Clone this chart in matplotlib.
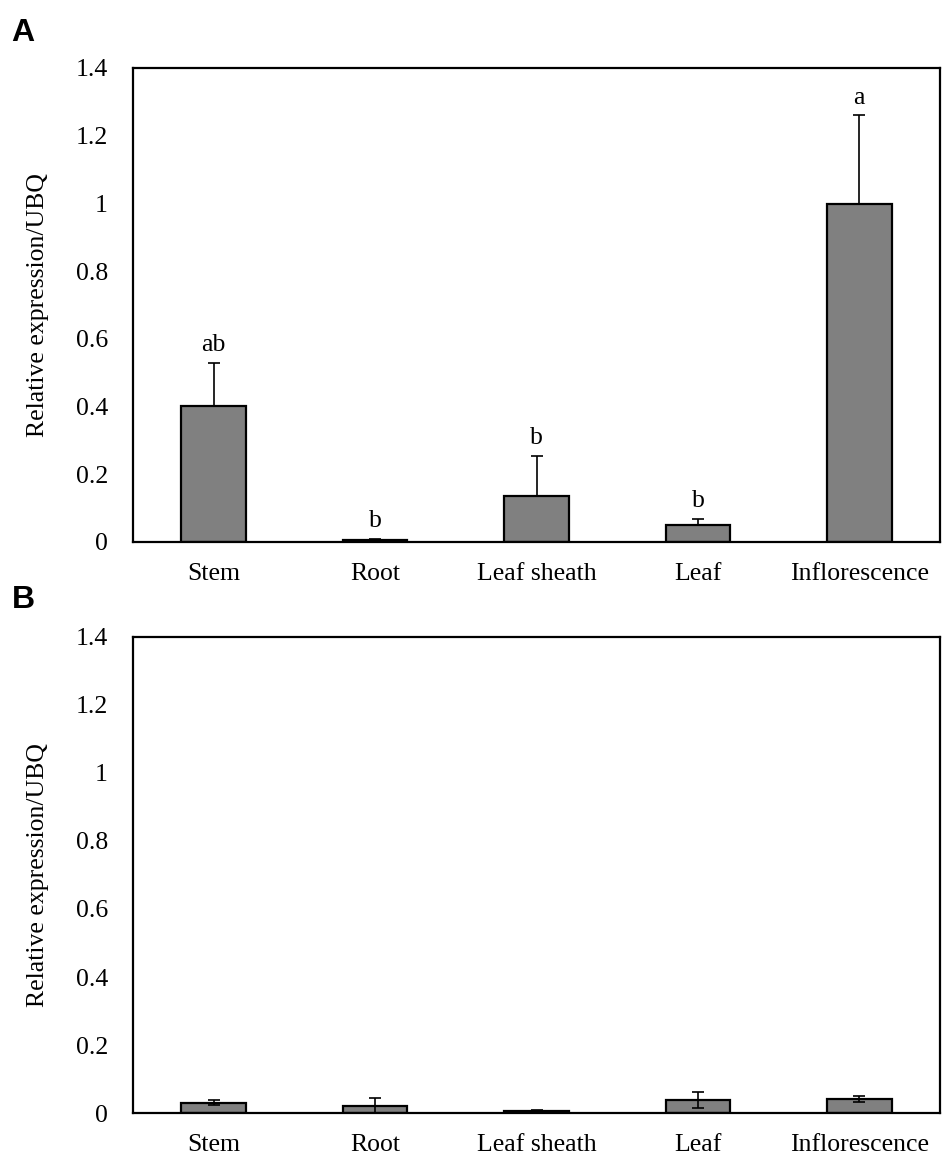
import numpy as np
from matplotlib import pyplot as plt
from matplotlib.ticker import FuncFormatter

tissues = ['Stem', 'Root', 'Leaf sheath', 'Leaf', 'Inflorescence']

# panel A
expr_a = [0.402, 0.005, 0.136, 0.050, 0.998]
err_a = [0.127, 0.003, 0.118, 0.017, 0.262]
letters_a = ['ab', 'b', 'b', 'b', 'a']

# panel B
expr_b = [0.030, 0.021, 0.006, 0.038, 0.041]
err_b = [0.007, 0.022, 0.002, 0.023, 0.008]

yticks = [0, 0.2, 0.4, 0.6, 0.8, 1.0, 1.2, 1.4]

plt.rcParams['font.family'] = ['Liberation Serif', 'DejaVu Serif']
FS = 18.5

fig = plt.figure(figsize=(9.5, 11.7), dpi=100)
ax_a = fig.add_axes([0.14, 0.5368, 0.8495, 0.4051])
ax_b = fig.add_axes([0.14, 0.0487, 0.8495, 0.4069])


def draw_panel(ax, vals, errs, lower_err):
	x = np.arange(len(tissues))
	yerr = [errs if lower_err else [0] * len(errs), errs]
	ax.bar(x, vals, width=0.4, color='#808080', edgecolor='black', linewidth=1.6, zorder=2)
	ax.errorbar(x, vals, yerr=yerr, fmt='none', ecolor='black', elinewidth=1.2,
		capsize=4, capthick=1.2, zorder=3)
	ax.set_xlim(-0.5, len(tissues) - 0.5)
	ax.set_ylim(0, 1.4)
	ax.set_yticks(yticks)
	ax.yaxis.set_major_formatter(FuncFormatter(lambda v, p: '{:g}'.format(round(v, 1))))
	ax.set_xticks(x)
	ax.set_xticklabels(tissues)
	ax.tick_params(axis='both', length=0, labelsize=FS)
	ax.tick_params(axis='y', pad=18)
	ax.tick_params(axis='x', pad=15)
	for s in ax.spines.values():
		s.set_linewidth(1.6)
	ax.set_ylabel('Relative expression/UBQ', fontsize=FS, labelpad=19)


draw_panel(ax_a, expr_a, err_a, False)
draw_panel(ax_b, expr_b, err_b, True)

for i, lab in enumerate(letters_a):
	ax_a.text(i, expr_a[i] + err_a[i] + 0.02, lab, ha='center', va='bottom', fontsize=FS)

fig.text(0.012, 0.972, 'A', fontsize=23, fontweight='bold', family='Liberation Sans', va='center')
fig.text(0.012, 0.487, 'B', fontsize=23, fontweight='bold', family='Liberation Sans', va='center')

plt.savefig('out.png')
